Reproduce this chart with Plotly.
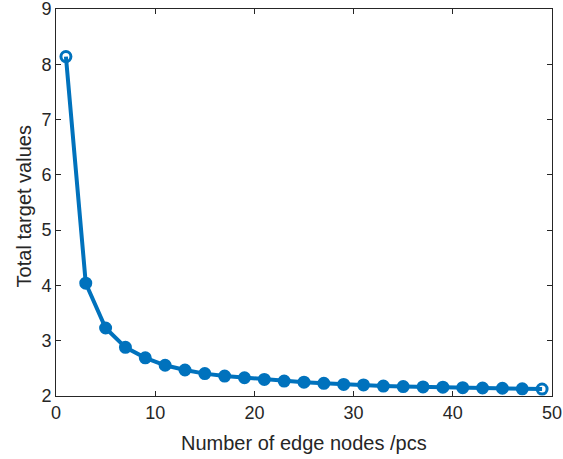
import plotly.graph_objects as go

edge_nodes = [1, 3, 5, 7, 9, 11, 13, 15, 17, 19, 21, 23, 25, 27, 29, 31, 33, 35, 37, 39, 41, 43, 45, 47, 49]
target_values = [8.14, 4.04, 3.23, 2.88, 2.69, 2.556, 2.47, 2.405, 2.36, 2.33, 2.30, 2.27, 2.25, 2.23, 2.21,
                 2.20, 2.18, 2.17, 2.165, 2.16, 2.15, 2.145, 2.14, 2.13, 2.125]
x_ticks = [0, 10, 20, 30, 40, 50]
y_ticks = [2, 3, 4, 5, 6, 7, 8, 9]

blue = "#0072BD"
ink = "#262626"
font_family = "Liberation Sans, Arial, Helvetica, sans-serif"
n = len(edge_nodes)
symbols = ["circle-open" if i in (0, n - 1) else "circle" for i in range(n)]

fig = go.Figure()
fig.add_trace(go.Scatter(
    x=edge_nodes, y=target_values, mode="lines+markers",
    line=dict(color=blue, width=4),
    marker=dict(symbol=symbols, size=10, color=blue, line=dict(color=blue, width=3)),
    showlegend=False,
))

axis_common = dict(
    showgrid=False, zeroline=False, showline=True, linecolor=ink, linewidth=1,
    mirror="ticks", ticks="inside", ticklen=5, tickcolor=ink, automargin=False,
    ticklabeloverflow="allow",
    tickfont=dict(family=font_family, size=18, color=ink),
)
fig.update_xaxes(range=[0, 50], tickvals=x_ticks, **axis_common)
fig.update_yaxes(range=[2, 9], tickvals=y_ticks, **axis_common)

fig.add_annotation(text="Number of edge nodes /pcs", xref="paper", yref="paper",
                   x=0.5, y=-0.122, xanchor="center", yanchor="middle", showarrow=False,
                   font=dict(family=font_family, size=20, color=ink))
fig.add_annotation(text="Total target values", xref="paper", yref="paper",
                   x=-0.0645, y=0.49, xanchor="center", yanchor="middle", showarrow=False,
                   textangle=-90, font=dict(family=font_family, size=20, color=ink))

fig.update_layout(
    width=563, height=459,
    margin=dict(l=56, r=11, t=9, b=63),
    plot_bgcolor="white", paper_bgcolor="white",
)
fig.write_html("out.html")
